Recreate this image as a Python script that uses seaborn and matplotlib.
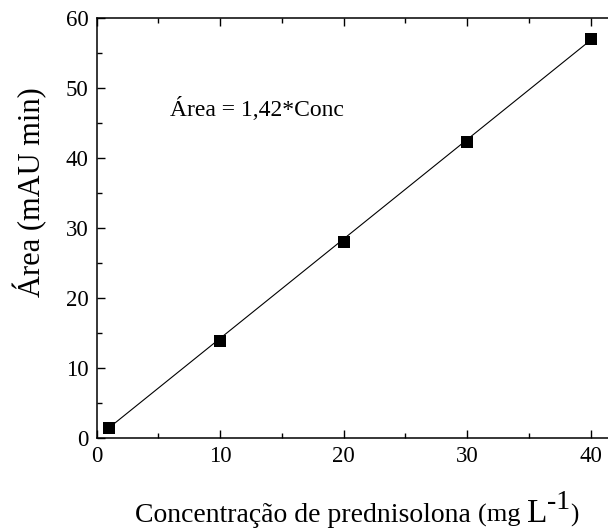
import matplotlib
matplotlib.use("Agg")
import matplotlib.pyplot as plt
from matplotlib.ticker import MultipleLocator
import numpy as np
import pandas as pd
import seaborn as sns

# Calibration data: prednisolone concentration (mg/L) vs. peak area (mAU min)
conc = [1, 10, 20, 30, 40]
area = [1.35, 13.8, 27.9, 42.3, 56.9]
slope = 1.42
equation_label = "Área = 1,42*Conc"
x_ticks = [0, 10, 20, 30, 40]
y_ticks = [0, 10, 20, 30, 40, 50, 60]

sns.set_theme(style="ticks")
plt.rcParams["font.family"] = ["Liberation Serif", "DejaVu Serif"]

W, H, DPI = 608, 531, 100
fig = plt.figure(figsize=(W / DPI, H / DPI), dpi=DPI)
fig.patch.set_facecolor("white")

# axes box: left spine at x=0, right part runs past the figure edge
left_px, bottom_px, top_px = 96.7, 437.7, 17.7
px_per_x = 12.35
xmax = 45
ax = fig.add_axes([left_px / W, (H - bottom_px) / H,
                   px_per_x * xmax / W, (bottom_px - top_px) / H])
ax.set_facecolor("white")

points = pd.DataFrame({"conc": conc, "area": area})
fit = pd.DataFrame({"conc": [min(conc), max(conc)],
                    "area": [slope * min(conc), slope * max(conc)]})

sns.lineplot(data=fit, x="conc", y="area", ax=ax, color="black",
             linewidth=0.8, zorder=2)
sns.scatterplot(data=points, x="conc", y="area", ax=ax, marker="s",
                s=64, color="black", linewidth=0, zorder=3)

ax.set_xticks(x_ticks)
ax.set_yticks(y_ticks)
ax.set_xlim(0, xmax)
ax.set_ylim(0, 60)
ax.xaxis.set_minor_locator(MultipleLocator(5))
ax.yaxis.set_minor_locator(MultipleLocator(5))
ax.tick_params(which="both", direction="in", top=True, right=True,
               colors="black", labelsize=16.5, width=1.0)
ax.tick_params(which="major", length=6, pad=6)
ax.tick_params(which="minor", length=3.5)
for sp in ax.spines.values():
    sp.set_visible(True)
    sp.set_color("black")
    sp.set_linewidth(1.1)
ax.set_xlabel("")
ax.set_ylabel("")

ax.text(5.9, 46.0, equation_label, fontsize=17, color="black",
        ha="left", va="baseline")

# y-axis title
fig.text(30 / W, (H - 192) / H, "Área (mAU min)", rotation=90,
         fontsize=22, ha="center", va="center", color="black")

# x-axis title built from pieces of different sizes
fig.canvas.draw()
renderer = fig.canvas.get_renderer()
pieces = [("Concentração de prednisolona ", 20, 0),
          ("(mg ", 19, 0),
          ("L", 24, 0),
          ("-1", 20, 13),
          (")", 18, 0)]
x_px = 135.0
base_px = 9.0
for txt, size, rise in pieces:
    t = fig.text(x_px / W, (base_px + rise) / H, txt, fontsize=size,
                 ha="left", va="baseline", color="black")
    bb = t.get_window_extent(renderer=renderer)
    x_px += bb.width

fig.savefig("out.png", dpi=DPI, facecolor="white")
